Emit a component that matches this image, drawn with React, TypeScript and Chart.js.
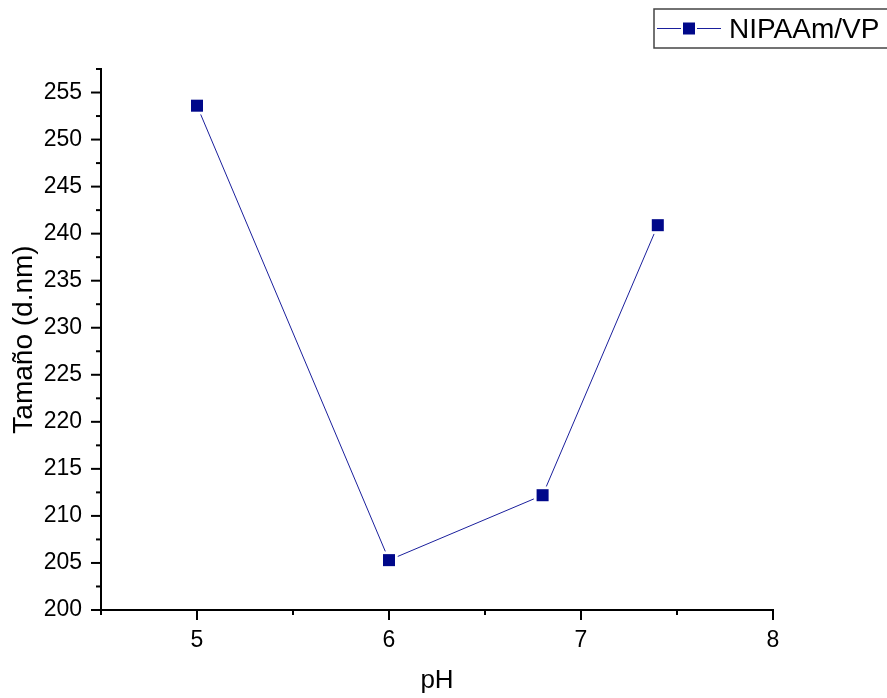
import React, { useEffect, useRef } from "react";
import { Chart, registerables } from "chart.js";

Chart.register(...registerables);

const phValues = [5, 6, 6.8, 7.4];
const sizeValues = [253.6, 205.3, 212.2, 240.9];
const seriesName = "NIPAAm/VP";
const xTitle = "pH";
const yTitle = "Tamaño (d.nm)";

const MARKER = "#00088a";
const LINE = "#1a1f9c";
const FONT = "'Liberation Sans', Arial, sans-serif";

const gapLinePlugin = {
  id: "gapLine",
  beforeDatasetsDraw(chart: any) {
    const meta = chart.getDatasetMeta(0);
    const pts = meta.data;
    const ctx = chart.ctx;
    ctx.save();
    ctx.strokeStyle = LINE;
    ctx.lineWidth = 1;
    const g = 9.5;
    for (let i = 0; i < pts.length - 1; i++) {
      const a = pts[i];
      const b = pts[i + 1];
      const dx = b.x - a.x;
      const dy = b.y - a.y;
      const len = Math.hypot(dx, dy);
      if (len < 2 * g) continue;
      const ux = dx / len;
      const uy = dy / len;
      ctx.beginPath();
      ctx.moveTo(a.x + ux * g, a.y + uy * g);
      ctx.lineTo(b.x - ux * g, b.y - uy * g);
      ctx.stroke();
    }
    ctx.restore();
  },
};

const axesPlugin = {
  id: "axesTicks",
  afterDraw(chart: any) {
    const ctx = chart.ctx;
    const { left, right, top, bottom } = chart.chartArea;
    const xs = chart.scales.x;
    const ys = chart.scales.y;
    ctx.save();
    ctx.strokeStyle = "#000";
    ctx.lineWidth = 2;
    ctx.lineCap = "square";
    ctx.beginPath();
    ctx.moveTo(left, top);
    ctx.lineTo(left, bottom);
    ctx.lineTo(right, bottom);
    ctx.stroke();
    ctx.lineCap = "butt";
    xs.ticks.forEach((t: any) => {
      const px = xs.getPixelForValue(t.value);
      const major = Math.abs(t.value - Math.round(t.value)) < 1e-6;
      const len = major ? 10 : 5;
      ctx.beginPath();
      ctx.moveTo(px, bottom);
      ctx.lineTo(px, bottom + len);
      ctx.stroke();
    });
    ys.ticks.forEach((t: any) => {
      const py = ys.getPixelForValue(t.value);
      const major = Math.abs(t.value / 5 - Math.round(t.value / 5)) < 1e-6;
      const len = major ? 10 : 5;
      ctx.beginPath();
      ctx.moveTo(left, py);
      ctx.lineTo(left - len, py);
      ctx.stroke();
    });

    // legend
    const bx = 654;
    const by = 9;
    const bh = 39;
    ctx.strokeStyle = "#444";
    ctx.lineWidth = 1.5;
    ctx.strokeRect(bx, by, 887 - bx + 5, bh);
    const ly = by + bh / 2;
    ctx.strokeStyle = LINE;
    ctx.lineWidth = 1;
    ctx.beginPath();
    ctx.moveTo(657, ly);
    ctx.lineTo(681, ly);
    ctx.moveTo(697, ly);
    ctx.lineTo(721, ly);
    ctx.stroke();
    ctx.fillStyle = MARKER;
    ctx.fillRect(683, ly - 6, 12, 12);
    ctx.fillStyle = "#000";
    ctx.font = `28px ${FONT}`;
    ctx.textAlign = "left";
    ctx.textBaseline = "alphabetic";
    ctx.fillText(seriesName, 729, 38);
    ctx.restore();
  },
};

export default function App() {
  const ref = useRef<HTMLCanvasElement | null>(null);
  useEffect(() => {
    if (!ref.current) return;
    const chart = new Chart(ref.current, {
      type: "scatter",
      data: {
        datasets: [
          {
            label: seriesName,
            data: phValues.map((x, i) => ({ x, y: sizeValues[i] })),
            showLine: false,
            pointStyle: "rect",
            pointRadius: 8.5,
            pointHoverRadius: 8.5,
            backgroundColor: MARKER,
            borderColor: MARKER,
            borderWidth: 0,
          },
        ],
      },
      options: {
        animation: false,
        responsive: false,
        events: [],
        layout: { padding: { left: 0, top: 69, right: 114, bottom: 0 } },
        plugins: {
          legend: { display: false },
          tooltip: { enabled: false },
        },
        scales: {
          x: {
            type: "linear",
            min: 4.5,
            max: 8,
            afterFit: (s: any) => {
              s.height = 88;
            },
            grid: { display: false, drawTicks: false },
            border: { display: false },
            ticks: {
              stepSize: 0.5,
              autoSkip: false,
              maxRotation: 0,
              padding: 17,
              color: "#000",
              font: { family: FONT, size: 23 },
              callback: (v: any) =>
                Math.abs(v - Math.round(v)) < 1e-6 ? String(Math.round(v)) : "",
            },
            title: {
              display: true,
              text: xTitle,
              color: "#000",
              font: { family: FONT, size: 26 },
              padding: { top: 0, bottom: 1.2 },
            },
          },
          y: {
            type: "linear",
            min: 200,
            max: 257.5,
            afterFit: (s: any) => {
              s.width = 101;
            },
            grid: { display: false, drawTicks: false },
            border: { display: false },
            ticks: {
              stepSize: 2.5,
              autoSkip: false,
              padding: 19,
              color: "#000",
              font: { family: FONT, size: 23 },
              callback: (v: any) =>
                Math.abs(v / 5 - Math.round(v / 5)) < 1e-6 ? String(Math.round(v)) : "",
            },
            title: {
              display: true,
              text: yTitle,
              color: "#000",
              font: { family: FONT, size: 28 },
              padding: { top: 7.8, bottom: 0 },
            },
          },
        },
      },
      plugins: [gapLinePlugin, axesPlugin],
    });
    return () => chart.destroy();
  }, []);
  return (
    <div style={{ position: "fixed", left: 0, top: 0, width: 887, height: 698, background: "#fff" }}>
      <canvas ref={ref} width={887} height={698} style={{ width: 887, height: 698, display: "block" }} />
    </div>
  );
}
